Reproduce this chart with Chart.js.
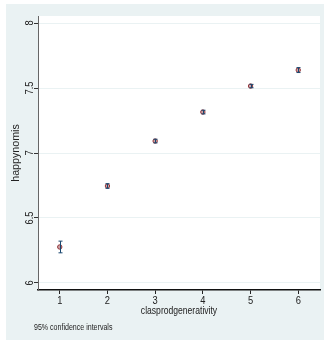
<!DOCTYPE html>
<html>
<head>
<meta charset="utf-8">
<script src="https://cdn.jsdelivr.net/npm/chart.js@4.4.0/dist/chart.umd.min.js"></script>
<style>
  html, body { margin: 0; padding: 0; background: #fff; }
  #wrap { width: 325px; height: 343px; }
</style>
</head>
<body>
<div id="wrap"><canvas id="chart" width="325" height="343"></canvas></div>
<script>
// --- Data ---
const categories = [1, 2, 3, 4, 5, 6];
const means  = [6.277, 6.746, 7.092, 7.315, 7.515, 7.638];
const ciLow  = [6.232, 6.728, 7.078, 7.301, 7.502, 7.619];
const ciHigh = [6.322, 6.764, 7.106, 7.329, 7.528, 7.657];
const yTicks = [6, 6.5, 7, 7.5, 8];
const xTitle = 'clasprodgenerativity';
const yTitle = 'happynomis';
const note = '95% confidence intervals';

const NAVY = '#1a476f';
const MAROON = '#90353b';
const GRID = '#eaf2f3';
const sans = '"Liberation Sans", Arial, sans-serif';

// draw text squeezed horizontally (Stata fonts look condensed)
function squeezed(ctx, text, x, y, squeeze) {
    ctx.save();
    ctx.translate(x, y);
    ctx.scale(squeeze, 1);
    ctx.fillText(text, 0, 0);
    ctx.restore();
}

// --- Plugins ---
const background = {
    id: 'background',
    beforeDraw(chart) {
        const { ctx, chartArea: a } = chart;
        ctx.save();
        ctx.fillStyle = '#ffffff';
        ctx.fillRect(0, 0, chart.width, chart.height);
        ctx.fillStyle = GRID;
        ctx.fillRect(6, 4, 318, 336);
        ctx.fillStyle = '#ffffff';
        ctx.fillRect(a.left, a.top, a.right - a.left, a.bottom - a.top);
        ctx.restore();
    }
};

const errorBars = {
    id: 'errorBars',
    afterDatasetsDraw(chart) {
        const { ctx, scales: { x, y } } = chart;
        ctx.save();
        ctx.strokeStyle = NAVY;
        ctx.lineWidth = 1;
        categories.forEach((c, i) => {
            const px = Math.round(x.getPixelForValue(c)) + 0.5;
            const lo = y.getPixelForValue(ciLow[i]);
            const hi = y.getPixelForValue(ciHigh[i]);
            ctx.beginPath();
            ctx.moveTo(px, lo); ctx.lineTo(px, hi);
            ctx.moveTo(px - 2, lo); ctx.lineTo(px + 2, lo);
            ctx.moveTo(px - 2, hi); ctx.lineTo(px + 2, hi);
            ctx.stroke();
        });
        ctx.restore();
    }
};

const labels = {
    id: 'labels',
    afterDraw(chart) {
        const { ctx, chartArea: a, scales: { x, y } } = chart;
        ctx.save();
        ctx.fillStyle = '#222';

        // x tick labels
        ctx.font = '11px ' + sans;
        ctx.textAlign = 'center';
        ctx.textBaseline = 'top';
        categories.forEach(c => squeezed(ctx, String(c), x.getPixelForValue(c), a.bottom + 5, 0.85));

        // y tick labels (rotated)
        yTicks.forEach(t => {
            ctx.save();
            ctx.translate(30, y.getPixelForValue(t));
            ctx.rotate(-Math.PI / 2);
            ctx.textAlign = 'center';
            ctx.textBaseline = 'middle';
            squeezed(ctx, String(t), 0, 0, 0.85);
            ctx.restore();
        });

        // axis titles
        ctx.font = '11px ' + sans;
        ctx.textAlign = 'center';
        ctx.textBaseline = 'middle';
        squeezed(ctx, xTitle, (a.left + a.right) / 2, 311, 0.78);

        ctx.save();
        ctx.translate(16, (a.top + a.bottom) / 2);
        ctx.rotate(-Math.PI / 2);
        squeezed(ctx, yTitle, 0, 0, 0.97);
        ctx.restore();

        // note
        ctx.font = '8.5px ' + sans;
        ctx.textAlign = 'left';
        squeezed(ctx, note, 34, 328, 0.83);
        ctx.restore();
    }
};

// --- Chart ---
new Chart(document.getElementById('chart'), {
    type: 'scatter',
    data: {
        datasets: [{
            data: categories.map((c, i) => ({ x: c, y: means[i] })),
            pointRadius: 2.2,
            pointBorderWidth: 1,
            borderColor: MAROON,
            backgroundColor: 'rgba(144, 53, 59, 0.45)'
        }]
    },
    options: {
        responsive: false,
        animation: false,
        layout: { padding: { left: 0, top: 16, right: 2, bottom: 0 } },
        plugins: { legend: { display: false }, tooltip: { enabled: false } },
        scales: {
            x: {
                type: 'linear',
                min: 0.544,
                max: 6.456,
                afterBuildTicks: s => { s.ticks = categories.map(v => ({ value: v })); },
                afterFit: s => { s.height = 53; },
                ticks: { display: false },
                grid: { drawOnChartArea: false, drawTicks: true, tickLength: 4, tickColor: '#222' },
                border: { display: true, color: '#111', width: 1.5 }
            },
            y: {
                min: 5.946,
                max: 8.054,
                afterBuildTicks: s => { s.ticks = yTicks.map(v => ({ value: v })); },
                afterFit: s => { s.width = 38; },
                ticks: { display: false },
                grid: { color: GRID, lineWidth: 1, drawTicks: true, tickLength: 4, tickColor: '#333' },
                border: { display: true, color: '#666', width: 1 }
            }
        }
    },
    plugins: [background, errorBars, labels]
});
</script>
</body>
</html>
